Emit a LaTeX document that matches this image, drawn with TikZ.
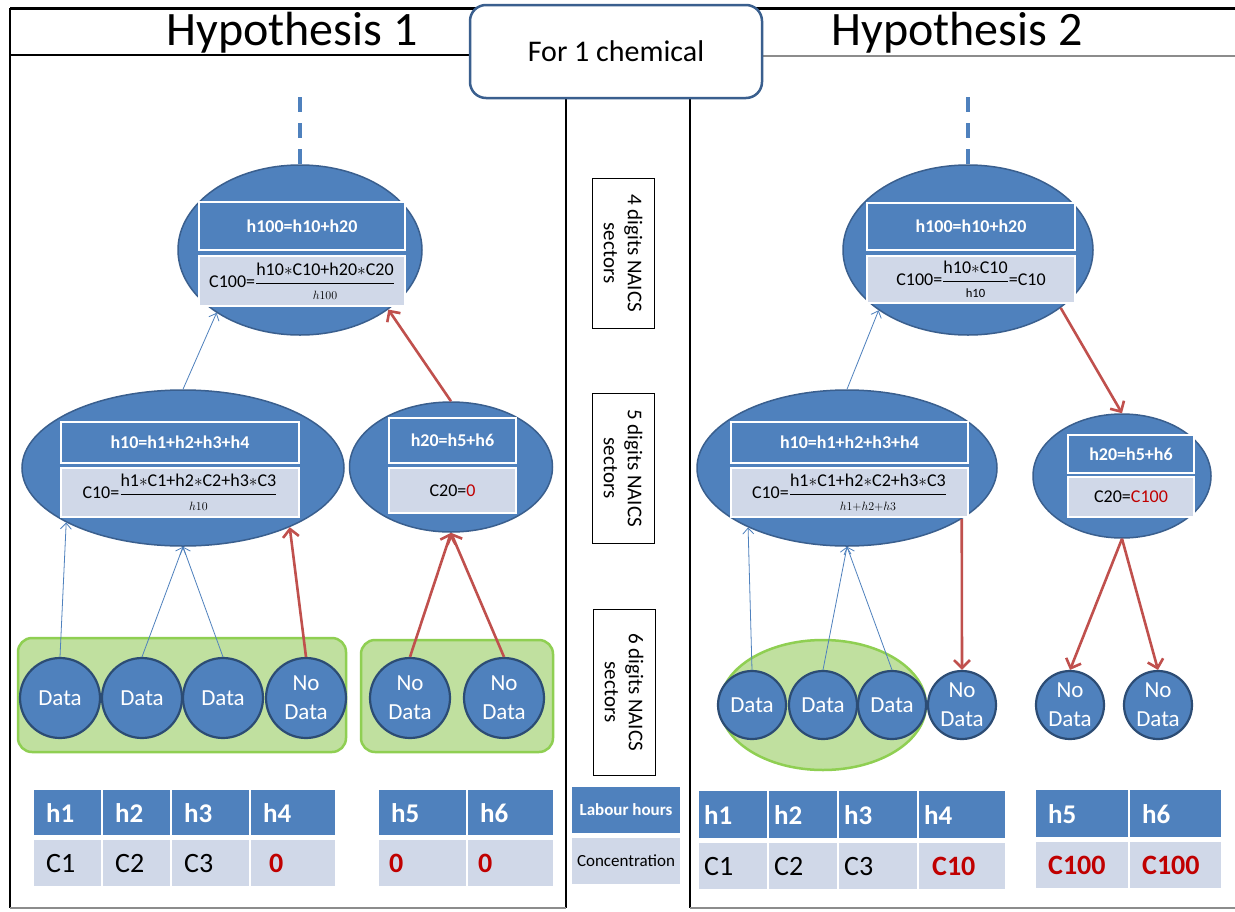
\documentclass[tikz,border=0pt]{standalone}
\usepackage{amsmath}
\usepackage{fontspec}
\setmainfont{Carlito}
\usetikzlibrary{arrows.meta,shapes.geometric}
\definecolor{obl}{HTML}{4F81BD}
\definecolor{obd}{HTML}{3A5F8E}
\definecolor{ocd}{HTML}{2C4C74}
\definecolor{olt}{HTML}{D0D8E8}
\definecolor{ored}{HTML}{C0504D}
\definecolor{dred}{HTML}{C00000}
\definecolor{gfill}{HTML}{C0E09F}
\definecolor{gline}{HTML}{8FCF52}
\definecolor{frgray}{HTML}{8C8C8C}
\newcommand\mulx{$\ast$}
\tikzset{
  ell/.style={ellipse, draw=obd, fill=obl, line width=1.5pt, inner sep=0pt},
  hbox/.style={rectangle, fill=obl, draw=white, line width=1.5pt, text=white, inner sep=0pt, font=\fontsize{18}{21}\selectfont\bfseries},
  lbox/.style={rectangle, fill=olt, draw=white, line width=1.5pt, text=black, inner sep=0pt, font=\fontsize{18}{21}\selectfont},
  circ/.style={circle, draw=ocd, fill=obl, line width=2.2pt, text=white, inner sep=0pt, align=center, font=\fontsize{23}{29}\selectfont},
  grp/.style={draw=gline, fill=gfill, line width=2.5pt, rounded corners=14pt, inner sep=0pt},
  tar/.style={draw=obl, line width=0.8pt, -{Straight Barb[length=6pt,width=11pt,line width=0.8pt]}},
  redar/.style={draw=ored, line width=2.6pt, -{Straight Barb[length=8pt,width=16pt]}},
  dsh/.style={draw=obl, line width=3.5pt, dash pattern=on 15pt off 11pt},
  hcell/.style={fill=obl, text=white, anchor=north west, inner ysep=0pt, align=left, font=\fontsize{27}{30}\selectfont\bfseries},
  bcell/.style={fill=olt, text=black, anchor=north west, inner ysep=0pt, align=left, font=\fontsize{28}{30}\selectfont},
  lvl/.style={draw=black, line width=1pt, fill=white, inner sep=0pt, rotate=-90, align=center, font=\fontsize{21}{24}\selectfont},
}
\begin{document}
\begin{tikzpicture}[x=1pt,y=-1pt]
\useasboundingbox (0,0) rectangle (1235,911);
\fill[white] (0,0) rectangle (1235,911);
% frames
\draw[line width=3pt] (10,8) -- (1235,8);
\draw[line width=2pt] (10,8) -- (10,908);
\draw[line width=1.5pt] (10,55) -- (566,55);
\draw[line width=2pt] (566,8) -- (566,908);
\draw[line width=2pt] (690,8) -- (690,908);
\draw[frgray, line width=2pt] (690,56) -- (1235,56);
\draw[frgray, line width=2pt] (10,908) -- (566,908);
\draw[frgray, line width=2pt] (690,908) -- (1235,908);
\node[font=\fontsize{48}{50}\selectfont, inner sep=0pt] (hyp1) at (292,33) {Hypothesis 1};
\node[font=\fontsize{48}{50}\selectfont, inner sep=0pt] (hyp2) at (957,33) {Hypothesis 2};
\node[draw=obd, line width=2.5pt, rounded corners=16pt, fill=white, minimum width=292pt, minimum height=93pt, font=\fontsize{30}{32}\selectfont] (chem) at (616,51.5) {For 1 chemical};

% middle column
\node[lvl, minimum width=150pt, minimum height=62pt] (lv4) at (623,253) {4 digits NAICS\\sectors};
\node[lvl, minimum width=150pt, minimum height=62pt] (lv5) at (623,468) {5 digits NAICS\\sectors};
\node[lvl, minimum width=166pt, minimum height=62pt] (lv6) at (624,692) {6 digits NAICS\\sectors};
\node[fill=obl, text=white, font=\fontsize{17}{19}\selectfont\bfseries, minimum width=108pt, minimum height=46pt, inner sep=0pt] (lab) at (626,810) {Labour hours};
\node[fill=olt, text=black, font=\fontsize{17}{19}\selectfont, minimum width=108pt, minimum height=46pt, inner sep=0pt] (conc) at (626,861) {Concentration};

% ===== left tree =====
\node[grp, minimum width=328pt, minimum height=114pt] (gL1) at (182,695) {};
\node[grp, minimum width=192pt, minimum height=112pt] (gL2) at (457,696) {};
\node[ell, minimum width=244pt, minimum height=170pt] (L100) at (300,250) {};
\node[hbox, minimum width=206pt, minimum height=48pt] (L100h) at (302,226) {h100=h10+h20};
\node[lbox, minimum width=206pt, minimum height=50pt] (L100c) at (302,281) {C100=$\dfrac{\text{h10\mulx C10+h20\mulx C20}}{\scriptstyle h100}$};
\node[ell, minimum width=322pt, minimum height=156pt] (L10) at (183,468) {};
\node[hbox, minimum width=238pt, minimum height=41pt] (L10h) at (180,442.5) {h10=h1+h2+h3+h4};
\node[lbox, minimum width=238pt, minimum height=49pt] (L10c) at (180,492.5) {C10=$\dfrac{\text{h1\mulx C1+h2\mulx C2+h3\mulx C3}}{\scriptstyle h10}$};
\node[ell, minimum width=203pt, minimum height=130pt] (L20) at (451,467) {};
\node[hbox, minimum width=127pt, minimum height=45pt] (L20h) at (452.5,440.5) {h20=h5+h6};
\node[lbox, minimum width=127pt, minimum height=45pt] (L20c) at (452.5,490.5) {C20=\textcolor{dred}{0}};
\node[circ, minimum size=80pt] (d1) at (60,698) {Data};
\node[circ, minimum size=80pt] (d2) at (142,698) {Data};
\node[circ, minimum size=80pt] (d3) at (223,698) {Data};
\node[circ, minimum size=80pt] (n4) at (306,698) {No\\Data};
\node[circ, minimum size=80pt] (n5) at (410,698) {No\\Data};
\node[circ, minimum size=80pt] (n6) at (504,698) {No\\Data};
\coordinate (topL) at (300,97);
\draw[dsh] (topL) -- (L100.north);
\draw[tar] (d1.north) -- (L10.205);
\draw[tar] (d2.north) -- (L10.south);
\draw[tar] (d3.north) -- (L10.south);
\draw[redar] (n4.north) -- (L10.331);
\draw[tar] (L10.north) -- (L100.217);
\draw[redar] (L20.north) -- (L100.326);
\draw[redar] (n5.north) -- (L20.south);
\draw[redar] (n6.north) -- (L20.south);

% ===== right tree =====
\node[ellipse, draw=gline, fill=gfill, line width=2.5pt, minimum width=206pt, minimum height=130pt] (gR) at (823,705) {};
\node[ell, minimum width=250pt, minimum height=170pt] (R100) at (968,250) {};
\node[hbox, minimum width=208pt, minimum height=47pt] (R100h) at (971,226.5) {h100=h10+h20};
\node[lbox, minimum width=208pt, minimum height=47pt] (R100c) at (971,279.5) {C100=$\dfrac{\text{h10\mulx C10}}{\scriptstyle \mathrm{h10}}$=C10};
\node[ell, minimum width=300pt, minimum height=156pt] (R10) at (847,468) {};
\node[hbox, minimum width=237pt, minimum height=41pt] (R10h) at (849.5,442.5) {h10=h1+h2+h3+h4};
\node[lbox, minimum width=237pt, minimum height=49pt] (R10c) at (849.5,492.5) {C10=$\dfrac{\text{h1\mulx C1+h2\mulx C2+h3\mulx C3}}{\scriptstyle h1+h2+h3}$};
\node[ell, minimum width=178pt, minimum height=124pt] (R20) at (1122,476) {};
\node[hbox, minimum width=126pt, minimum height=38pt] (R20h) at (1131,454) {h20=h5+h6};
\node[lbox, minimum width=126pt, minimum height=40pt] (R20c) at (1131,497) {C20=\textcolor{dred}{C100}};
\node[circ, minimum size=68pt] (e1) at (752,705) {Data};
\node[circ, minimum size=68pt] (e2) at (823,705) {Data};
\node[circ, minimum size=68pt] (e3) at (892,705) {Data};
\node[circ, minimum size=68pt] (m4) at (962,705) {No\\Data};
\node[circ, minimum size=68pt] (m5) at (1070,705) {No\\Data};
\node[circ, minimum size=68pt] (m6) at (1158,705) {No\\Data};
\coordinate (topR) at (968,97);
\draw[dsh] (topR) -- (R100.north);
\draw[tar] (e1.north) -- (R10.211);
\draw[tar] (e2.north) -- (R10.south);
\draw[tar] (e3.north) -- (R10.south);
\draw[redar] (R10.336) -- (m4.north);
\draw[tar] (R10.north) -- (R100.214);
\draw[redar] (R100.328) -- (R20.north);
\draw[redar] (R20.south) -- (m5.north);
\draw[redar] (R20.south) -- (m6.north);

% ===== tables =====
% left table 1
\node[hcell, inner xsep=12pt, text width=43pt, minimum height=45pt] (a1) at (34,790) {h1};
\node[hcell, inner xsep=12pt, text width=43pt, minimum height=45pt] (a2) at (103,790) {h2};
\node[hcell, inner xsep=12pt, text width=53pt, minimum height=45pt] (a3) at (172,790) {h3};
\node[hcell, inner xsep=12pt, text width=60pt, minimum height=45pt] (a4) at (251,790) {h4};
\node[bcell, inner xsep=12pt, text width=43pt, minimum height=46pt] (b1) at (34,840) {C1};
\node[bcell, inner xsep=12pt, text width=43pt, minimum height=46pt] (b2) at (103,840) {C2};
\node[bcell, inner xsep=12pt, text width=53pt, minimum height=46pt] (b3) at (172,840) {C3};
\node[bcell, inner xsep=12pt, text width=60pt, minimum height=46pt, text=dred, font=\fontsize{28}{30}\selectfont\bfseries] (b4) at (251,840) {\hspace*{6pt}0};
% left table 2
\node[hcell, inner xsep=12pt, text width=63pt, minimum height=45pt] (a5) at (379,790) {h5};
\node[hcell, inner xsep=12pt, text width=61pt, minimum height=45pt] (a6) at (468,790) {h6};
\node[bcell, inner xsep=10pt, text width=67pt, minimum height=46pt, text=dred, font=\fontsize{28}{30}\selectfont\bfseries] (b5) at (379,840) {0};
\node[bcell, inner xsep=10pt, text width=65pt, minimum height=46pt, text=dred, font=\fontsize{28}{30}\selectfont\bfseries] (b6) at (468,840) {0};
% right table 1
\node[hcell, inner xsep=5pt, text width=58pt, minimum height=47pt] (r1) at (699,791) {h1};
\node[hcell, inner xsep=5pt, text width=58pt, minimum height=47pt] (r2) at (769,791) {h2};
\node[hcell, inner xsep=5pt, text width=68pt, minimum height=47pt] (r3) at (839,791) {h3};
\node[hcell, inner xsep=5pt, text width=76pt, minimum height=47pt] (r4) at (919,791) {h4};
\node[bcell, inner xsep=5pt, text width=58pt, minimum height=46pt] (s1) at (699,843) {C1};
\node[bcell, inner xsep=5pt, text width=58pt, minimum height=46pt] (s2) at (769,843) {C2};
\node[bcell, inner xsep=5pt, text width=68pt, minimum height=46pt] (s3) at (839,843) {C3};
\node[bcell, inner xsep=5pt, text width=76pt, minimum height=46pt, text=dred, font=\fontsize{28}{30}\selectfont\bfseries] (s4) at (919,843) {\hspace*{8pt}C10};
% right table 2
\node[hcell, inner xsep=12pt, text width=68pt, minimum height=47pt] (r5) at (1036,790) {h5};
\node[hcell, inner xsep=12pt, text width=67pt, minimum height=47pt] (r6) at (1130,790) {h6};
\node[bcell, inner xsep=12pt, text width=68pt, minimum height=46pt, text=dred, font=\fontsize{28}{30}\selectfont\bfseries] (s5) at (1036,842) {C100};
\node[bcell, inner xsep=12pt, text width=67pt, minimum height=46pt, text=dred, font=\fontsize{28}{30}\selectfont\bfseries] (s6) at (1130,842) {C100};
\end{tikzpicture}
\end{document}
